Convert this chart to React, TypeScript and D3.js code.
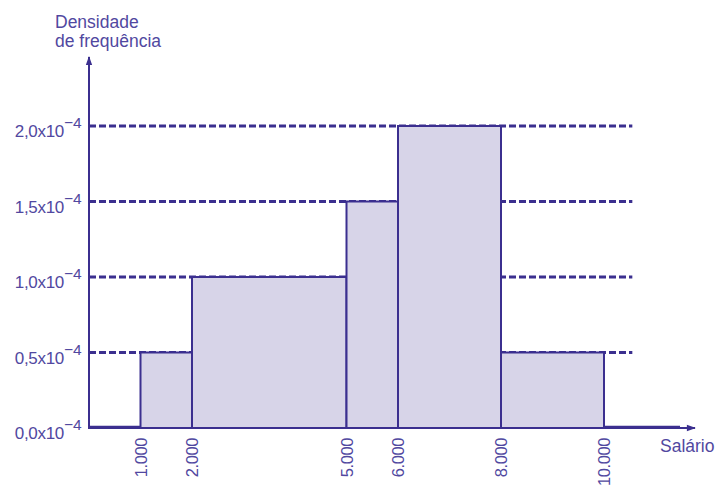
import React from "react";
import * as d3 from "d3";

// histogram classes (salário) and frequency density (x10^-4)
const binStarts = [0, 1000, 2000, 5000, 6000, 8000];
const binEnds = [1000, 2000, 5000, 6000, 8000, 10000];
const densities = [0, 0.5, 1.0, 1.5, 2.0, 0.5];
const xTickValues = [1000, 2000, 5000, 6000, 8000, 10000];
const xTickLabels = ["1.000", "2.000", "5.000", "6.000", "8.000", "10.000"];
const yTickValues = [0, 0.5, 1.0, 1.5, 2.0];
const yTickLabels = ["0,0x10", "0,5x10", "1,0x10", "1,5x10", "2,0x10"];
// dashed guide lines stop here (salário units)
const guideEnd = 10550;

const INK = "#3b2f8f";
const TEXT = "#5148a0";
const FILL = "#d7d4e8";
const FONT = "Liberation Sans, Arial, sans-serif";

export default function App() {
  const width = 721;
  const height = 488;
  const x0 = 89;
  const y0 = 428;

  const x = d3.scaleLinear().domain([0, 10000]).range([x0, 604]);
  const y = d3.scaleLinear().domain([0, 2]).range([y0, 126]);

  const bars = binStarts.map((s, i) => ({ s, e: binEnds[i], d: densities[i] }));

  return (
    <svg width={width} height={height} style={{ position: "absolute", left: 0, top: 0 }}>
      <defs>
        <marker id="arr" viewBox="0 0 10 10" refX="9" refY="5" markerWidth="5" markerHeight="4.5" orient="auto">
          <path d="M0,1.5 L10,5 L0,8.5 z" fill={INK} />
        </marker>
      </defs>

      {/* dashed guides */}
      {yTickValues.map((v, i) =>
        v > 0 ? (
          <line
            key={"g" + i}
            x1={x0}
            x2={x(guideEnd)}
            y1={y(v)}
            y2={y(v)}
            stroke={INK}
            strokeWidth={2.8}
            strokeDasharray="7 3"
          />
        ) : null
      )}

      {/* bars */}
      {bars.filter((b) => b.d > 0).map((b, i) => (
        <rect
          key={"b" + i}
          x={x(b.s)}
          y={y(b.d)}
          width={x(b.e) - x(b.s)}
          height={y0 - y(b.d)}
          fill={FILL}
          stroke={INK}
          strokeWidth={2}
        />
      ))}

      {/* axes */}
      <line x1={x0} y1={y0 + 1} x2={x0} y2={57} stroke={INK} strokeWidth={2} markerEnd="url(#arr)" />
      <line x1={x0 - 1} y1={y0} x2={695} y2={y0} stroke={INK} strokeWidth={2} markerEnd="url(#arr)" />
      <line x1={x0} y1={y0 - 1} x2={x(1000)} y2={y0 - 1} stroke={INK} strokeWidth={2.5} />
      <line x1={x(10000)} y1={y0 - 1} x2={680} y2={y0 - 1} stroke={INK} strokeWidth={2.5} />

      {/* y tick labels */}
      {yTickValues.map((v, i) => (
        <g key={"yl" + i} fontFamily={FONT} fill={TEXT}>
          <text x={64} y={y(v) + 11} fontSize={17} textAnchor="end" letterSpacing={-0.3}>
            {yTickLabels[i]}
          </text>
          <text x={64} y={y(v) + 2} fontSize={15.5}>
            {"\u22124"}
          </text>
        </g>
      ))}

      {/* x tick labels */}
      {xTickValues.map((v, i) => (
        <text
          key={"xl" + i}
          transform={`translate(${x(v) + 6},438) rotate(-90)`}
          fontFamily={FONT}
          fontSize={16.5}
          letterSpacing={-0.4}
          fill={TEXT}
          textAnchor="end"
        >
          {xTickLabels[i]}
        </text>
      ))}

      {/* axis titles */}
      <text x={55} y={28} fontFamily={FONT} fontSize={17.5} fill={TEXT}>Densidade</text>
      <text x={55} y={47} fontFamily={FONT} fontSize={17.5} fill={TEXT}>de frequência</text>
      <text x={660} y={452} fontFamily={FONT} fontSize={17.5} fill={TEXT}>Salário</text>
    </svg>
  );
}
